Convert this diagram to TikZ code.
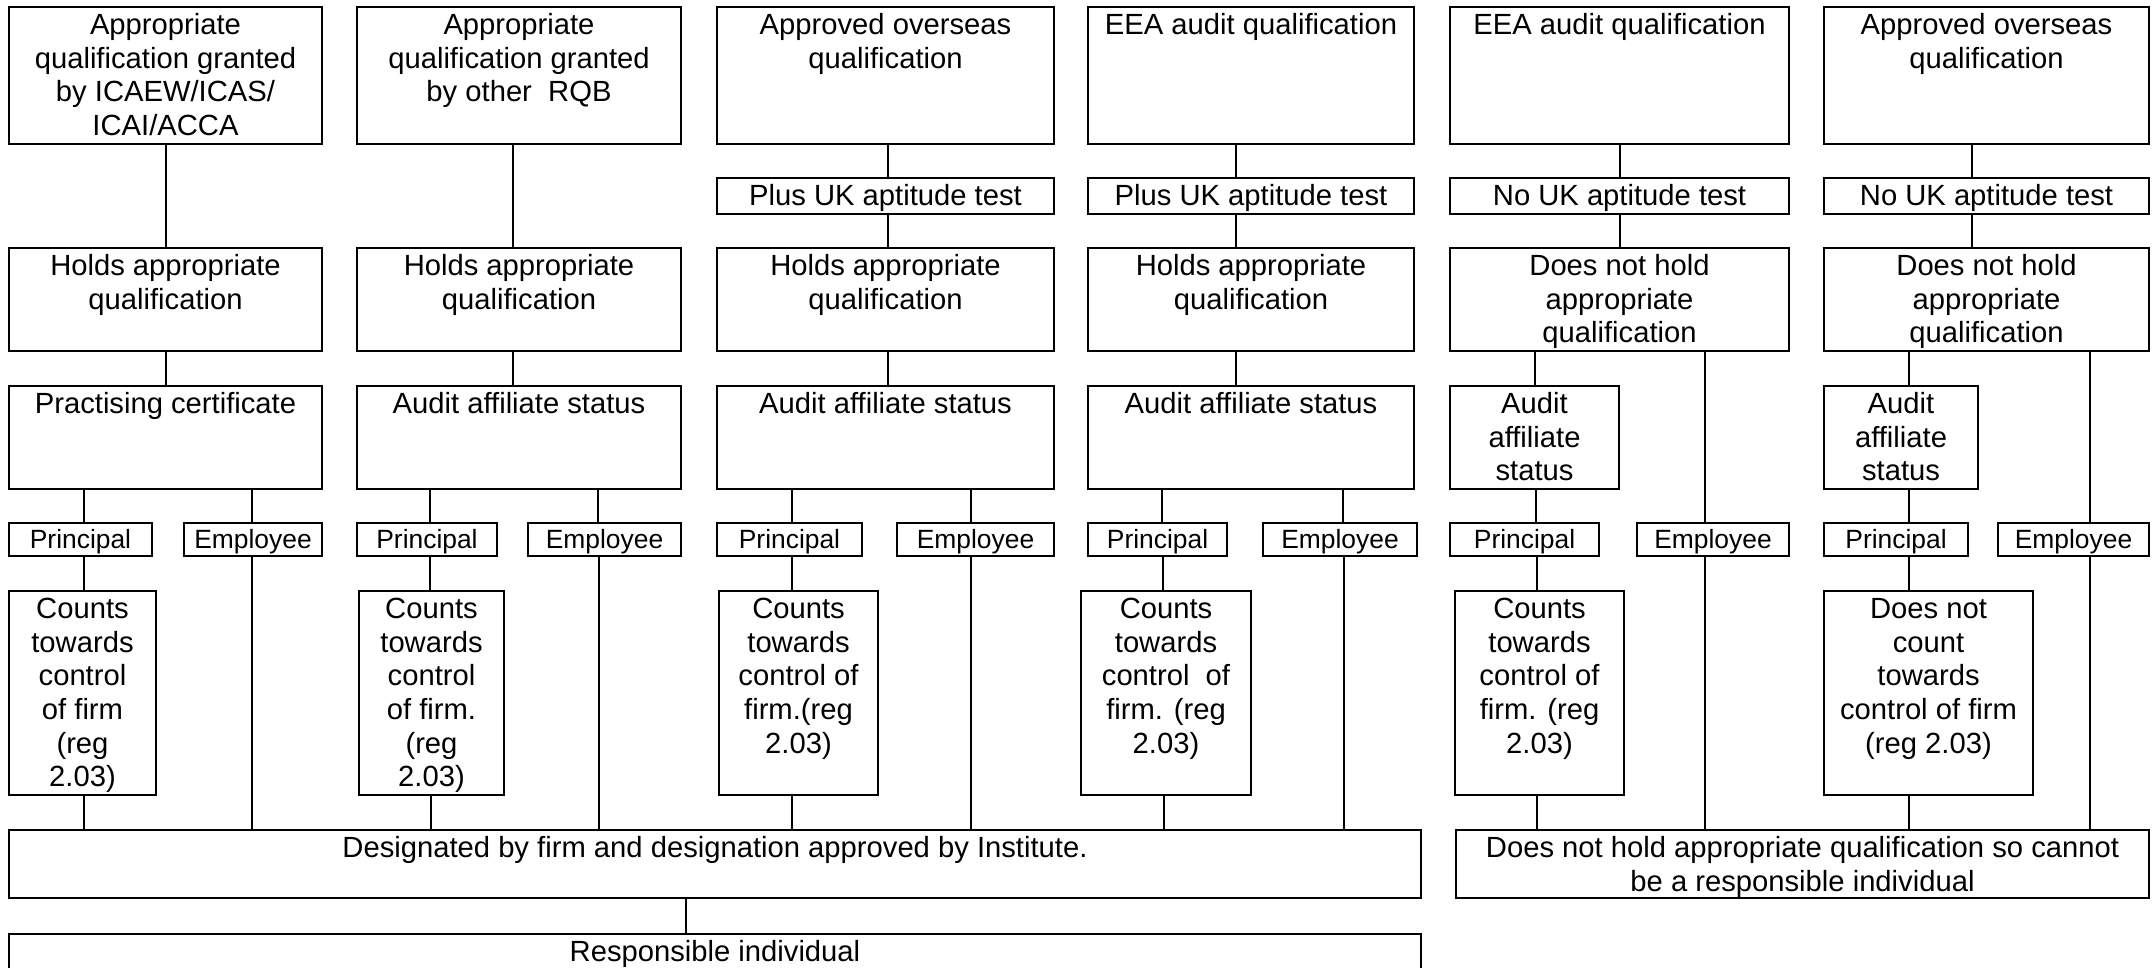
\documentclass[tikz,border=0pt]{standalone}
\usepackage{fontspec}
\setmainfont{Liberation Sans}
\tikzset{
  boxst/.style={draw, line width=1.1pt, inner sep=0pt, outer sep=0pt, anchor=north west,
    font=\fontsize{14.6}{16.8}\selectfont},
  smallbox/.style={boxst, font=\fontsize{13.2}{15.5}\selectfont},
  conn/.style={draw, line width=0.9pt},
}
\newcommand{\bx}[6]{%
  \pgfmathsetmacro\bw{(#4-#2)*0.5}%
  \pgfmathsetmacro\bh{(#5-#3)*0.5}%
  \node[boxst] (#1) at (#2,#3) {\parbox[t][\bh pt][t]{\bw pt}{\centering\rule{0pt}{13.8pt}#6\par}};%
}
\newcommand{\bxs}[6]{%
  \pgfmathsetmacro\bw{(#4-#2)*0.5}%
  \pgfmathsetmacro\bh{(#5-#3)*0.5}%
  \node[smallbox] (#1) at (#2,#3) {\parbox[t][\bh pt][t]{\bw pt}{\centering\rule{0pt}{12.8pt}#6\par}};%
}
\newcommand{\cn}[3]{%
  \path (#3,0) coordinate (cx);%
  \draw[conn] (#1.south -| cx) -- (#2.north -| cx);%
}
\begin{document}
\begin{tikzpicture}[x=0.5pt,y=-0.5pt]
\useasboundingbox (0,0) rectangle (2152,968);
% row 1
\bx{box1}{9}{7}{322}{144}{Appropriate\\qualification granted\\by ICAEW/ICAS/\\ICAI/ACCA}
\bx{box2}{357}{7}{681}{144}{Appropriate\\qualification granted\\by other\ \ RQB}
\bx{box3}{717}{7}{1054}{144}{Approved overseas\\qualification}
\bx{box4}{1088}{7}{1414}{144}{EEA audit qualification}
\bx{box5}{1450}{7}{1789}{144}{EEA audit qualification}
\bx{box6}{1824}{7}{2149}{144}{Approved overseas\\qualification}
% row 2
\bx{plus3}{717}{178}{1054}{214}{Plus UK aptitude test}
\bx{plus4}{1088}{178}{1414}{214}{Plus UK aptitude test}
\bx{no5}{1450}{178}{1789}{214}{No UK aptitude test}
\bx{no6}{1824}{178}{2149}{214}{No UK aptitude test}
% row 3
\bx{holds1}{9}{248}{322}{351}{Holds appropriate\\qualification}
\bx{holds2}{357}{248}{681}{351}{Holds appropriate\\qualification}
\bx{holds3}{717}{248}{1054}{351}{Holds appropriate\\qualification}
\bx{holds4}{1088}{248}{1414}{351}{Holds appropriate\\qualification}
\bx{dnh5}{1450}{248}{1789}{351}{Does not hold\\appropriate\\qualification}
\bx{dnh6}{1824}{248}{2149}{351}{Does not hold\\appropriate\\qualification}
% row 4
\bx{pract1}{9}{386}{322}{489}{Practising certificate}
\bx{aud2}{357}{386}{681}{489}{Audit affiliate status}
\bx{aud3}{717}{386}{1054}{489}{Audit affiliate status}
\bx{aud4}{1088}{386}{1414}{489}{Audit affiliate status}
\bx{aud5}{1450}{386}{1619}{489}{Audit\\affiliate\\status}
\bx{aud6}{1824}{386}{1978}{489}{Audit\\affiliate\\status}
% row 5
\bxs{pr1}{9}{523}{152}{556}{Principal}
\bxs{em1}{184}{523}{322}{556}{Employee}
\bxs{pr2}{357}{523}{497}{556}{Principal}
\bxs{em2}{528}{523}{681}{556}{Employee}
\bxs{pr3}{717}{523}{862}{556}{Principal}
\bxs{em3}{897}{523}{1054}{556}{Employee}
\bxs{pr4}{1088}{523}{1227}{556}{Principal}
\bxs{em4}{1263}{523}{1417}{556}{Employee}
\bxs{pr5}{1450}{523}{1599}{556}{Principal}
\bxs{em5}{1637}{523}{1789}{556}{Employee}
\bxs{pr6}{1824}{523}{1968}{556}{Principal}
\bxs{em6}{1998}{523}{2149}{556}{Employee}
% row 6
\bx{ct1}{9}{591}{156}{795}{Counts\\towards\\control\\of firm\\(reg\\2.03)}
\bx{ct2}{359}{591}{504}{795}{Counts\\towards\\control\\of firm.\\(reg\\2.03)}
\bx{ct3}{719}{591}{878}{795}{Counts\\towards\\control of\\firm.(reg\\2.03)}
\bx{ct4}{1081}{591}{1251}{795}{Counts\\towards\\control\ \ of\\firm. (reg\\2.03)}
\bx{ct5}{1455}{591}{1624}{795}{Counts\\towards\\control of\\firm. (reg\\2.03)}
\bx{ct6}{1824}{591}{2033}{795}{Does not\\count\\towards\\control of firm\\(reg 2.03)}
% row 7
\bx{desig}{9}{830}{1421}{898}{Designated by firm and designation approved by Institute.}
\bx{final}{1456}{830}{2149}{898}{Does not hold appropriate qualification so cannot\\be a responsible individual}
% row 8 (box runs past the bottom edge of the picture)
\bx{resp}{9}{934}{1421}{1000}{Responsible individual}
% connectors
\cn{box1}{holds1}{166} \cn{holds1}{pract1}{166} \cn{pract1}{pr1}{84} \cn{pract1}{em1}{252}
\cn{pr1}{ct1}{84} \cn{ct1}{desig}{84} \cn{em1}{desig}{252}
\cn{box2}{holds2}{513} \cn{holds2}{aud2}{513} \cn{aud2}{pr2}{430} \cn{aud2}{em2}{598}
\cn{pr2}{ct2}{430} \cn{ct2}{desig}{431} \cn{em2}{desig}{599}
\cn{box3}{plus3}{888} \cn{plus3}{holds3}{888} \cn{holds3}{aud3}{888} \cn{aud3}{pr3}{792}
\cn{aud3}{em3}{971} \cn{pr3}{ct3}{792} \cn{ct3}{desig}{792} \cn{em3}{desig}{971}
\cn{box4}{plus4}{1236} \cn{plus4}{holds4}{1236} \cn{holds4}{aud4}{1236} \cn{aud4}{pr4}{1162}
\cn{aud4}{em4}{1343} \cn{pr4}{ct4}{1163} \cn{ct4}{desig}{1164} \cn{em4}{desig}{1344}
\cn{box5}{no5}{1620} \cn{no5}{dnh5}{1620} \cn{dnh5}{aud5}{1535} \cn{dnh5}{em5}{1705}
\cn{aud5}{pr5}{1536} \cn{pr5}{ct5}{1537} \cn{ct5}{final}{1537} \cn{em5}{final}{1705}
\cn{box6}{no6}{1972} \cn{no6}{dnh6}{1972} \cn{dnh6}{aud6}{1909} \cn{dnh6}{em6}{2090}
\cn{aud6}{pr6}{1909} \cn{pr6}{ct6}{1909} \cn{ct6}{final}{1909} \cn{em6}{final}{2090}
\cn{desig}{resp}{686}
\end{tikzpicture}
\end{document}
